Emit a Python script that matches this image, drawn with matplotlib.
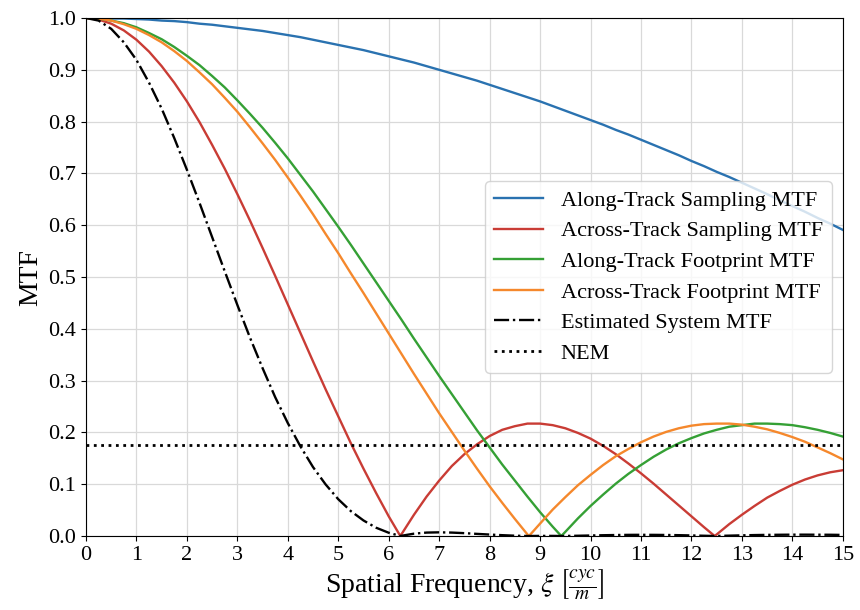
"""
MTF budget plot: sampling / footprint MTFs, estimated system MTF and NEM level.
Values read off the reference figure every 0.25 cyc/m (plus the zero crossings).
"""
import numpy as np
import matplotlib
matplotlib.use("Agg")
import matplotlib.pyplot as plt
from matplotlib.ticker import FormatStrFormatter

plt.rcParams["font.family"] = ["Liberation Serif", "DejaVu Serif"]
plt.rcParams["mathtext.fontset"] = "stix"

# spatial frequency grid [cyc/m], 0 .. 15 every 0.25
XI = np.linspace(0.0, 15.0, 61)

ALONG_SAMPLING = [
    1.000, 1.000, 0.999, 0.999, 0.998, 0.997, 0.995, 0.994, 0.992, 0.989,
    0.987, 0.984, 0.981, 0.978, 0.975, 0.971, 0.967, 0.963, 0.958, 0.953,
    0.948, 0.943, 0.938, 0.932, 0.926, 0.920, 0.914, 0.907, 0.900, 0.893,
    0.886, 0.879, 0.871, 0.863, 0.855, 0.847, 0.839, 0.830, 0.821, 0.812,
    0.803, 0.794, 0.784, 0.775, 0.765, 0.755, 0.745, 0.735, 0.724, 0.714,
    0.703, 0.693, 0.682, 0.671, 0.660, 0.648, 0.637, 0.626, 0.614, 0.603, 0.591]
ACROSS_SAMPLING = [
    1.000, 0.997, 0.989, 0.976, 0.958, 0.935, 0.907, 0.875, 0.839, 0.799,
    0.755, 0.709, 0.660, 0.609, 0.556, 0.502, 0.447, 0.392, 0.337, 0.283,
    0.231, 0.179, 0.130, 0.083, 0.038, 0.003, 0.041, 0.076, 0.107, 0.135,
    0.158, 0.177, 0.193, 0.205, 0.212, 0.217, 0.217, 0.214, 0.208, 0.199,
    0.188, 0.174, 0.158, 0.140, 0.121, 0.101, 0.080, 0.059, 0.038, 0.017,
    0.003, 0.023, 0.041, 0.058, 0.074, 0.087, 0.099, 0.109, 0.117, 0.123, 0.127]
ALONG_FOOTPRINT = [
    1.000, 0.999, 0.995, 0.990, 0.982, 0.971, 0.959, 0.944, 0.927, 0.909,
    0.888, 0.866, 0.841, 0.815, 0.788, 0.759, 0.729, 0.697, 0.665, 0.631,
    0.597, 0.562, 0.526, 0.490, 0.454, 0.418, 0.381, 0.345, 0.309, 0.274,
    0.239, 0.204, 0.171, 0.138, 0.107, 0.076, 0.046, 0.018, 0.008, 0.034,
    0.058, 0.080, 0.101, 0.120, 0.137, 0.153, 0.167, 0.179, 0.189, 0.198,
    0.205, 0.211, 0.214, 0.217, 0.217, 0.216, 0.214, 0.210, 0.205, 0.199, 0.192]
ACROSS_FOOTPRINT = [
    1.000, 0.999, 0.995, 0.988, 0.979, 0.967, 0.953, 0.936, 0.917, 0.895,
    0.872, 0.846, 0.819, 0.789, 0.758, 0.726, 0.692, 0.657, 0.621, 0.583,
    0.546, 0.507, 0.469, 0.430, 0.391, 0.352, 0.313, 0.275, 0.237, 0.201,
    0.165, 0.130, 0.096, 0.064, 0.033, 0.003, 0.024, 0.051, 0.075, 0.098,
    0.118, 0.137, 0.154, 0.168, 0.181, 0.192, 0.201, 0.208, 0.213, 0.216,
    0.217, 0.217, 0.215, 0.211, 0.206, 0.199, 0.191, 0.182, 0.171, 0.160, 0.148]
SYSTEM = [
    1.000, 0.995, 0.979, 0.953, 0.919, 0.875, 0.825, 0.768, 0.707, 0.643,
    0.577, 0.511, 0.446, 0.383, 0.324, 0.268, 0.218, 0.173, 0.133, 0.0995,
    0.071, 0.048, 0.030, 0.016, 0.0063, 0.0004, 0.0045, 0.0066, 0.0071, 0.0066,
    0.0055, 0.0041, 0.0028, 0.0016, 0.0006, 0.0000, 0.0002, 0.0002, 0.0001, 0.0005,
    0.0010, 0.0015, 0.0019, 0.0022, 0.0023, 0.0022, 0.0020, 0.0016, 0.0011, 0.0005,
    0.0001, 0.0007, 0.0013, 0.0018, 0.0022, 0.0024, 0.0026, 0.0026, 0.0025, 0.0024, 0.0021]

# zero crossings (cyc/m)
ZEROS_ACROSS_SAMPLING = [6.23, 12.46]
ZEROS_ALONG_FOOTPRINT = [9.42]
ZEROS_ACROSS_FOOTPRINT = [8.78]
ZEROS_SYSTEM = [6.23, 8.78, 9.42, 12.46]

NEM = 0.175

SERIES = [("Along-Track Sampling MTF", ALONG_SAMPLING, [], "#2a72b0", "-"),
          ("Across-Track Sampling MTF", ACROSS_SAMPLING, ZEROS_ACROSS_SAMPLING, "#c93c35", "-"),
          ("Along-Track Footprint MTF", ALONG_FOOTPRINT, ZEROS_ALONG_FOOTPRINT, "#35a035", "-"),
          ("Across-Track Footprint MTF", ACROSS_FOOTPRINT, ZEROS_ACROSS_FOOTPRINT, "#f5882c", "-"),
          ("Estimated System MTF", SYSTEM, ZEROS_SYSTEM, "black", "-.")]


def with_zeros(vals, zeros):
    x = np.concatenate([XI, zeros])
    y = np.concatenate([vals, np.zeros(len(zeros))])
    order = np.argsort(x)
    return x[order], y[order]


fig = plt.figure(figsize=(8.6, 6.1), dpi=100)
ax = fig.add_axes([0.1, 0.1213, 0.880, 0.8492])

for label, vals, zeros, color, ls in SERIES:
    x, y = with_zeros(vals, zeros)
    ax.plot(x, y, color=color, ls=ls, lw=1.7, label=label)
ax.axhline(NEM, color="black", ls=":", lw=2.0, label="NEM")

ax.set_xlim(0, 15); ax.set_ylim(0, 1.0)
ax.set_xticks(range(0, 16))
ax.set_yticks(np.arange(0, 1.01, 0.1))
ax.yaxis.set_major_formatter(FormatStrFormatter("%.1f"))
ax.tick_params(labelsize=16)
ax.grid(True, color="#d9d9d9", lw=0.9)
ax.set_axisbelow(True)

ax.set_xlabel(r"Spatial Frequency, $\xi$ $\left[\frac{cyc}{m}\right]$", fontsize=20, labelpad=2)
ax.set_ylabel("MTF", fontsize=20)
ax.legend(loc="center right", fontsize=16, handlelength=2.2, labelspacing=0.45)

fig.savefig("out.png", dpi=100)
